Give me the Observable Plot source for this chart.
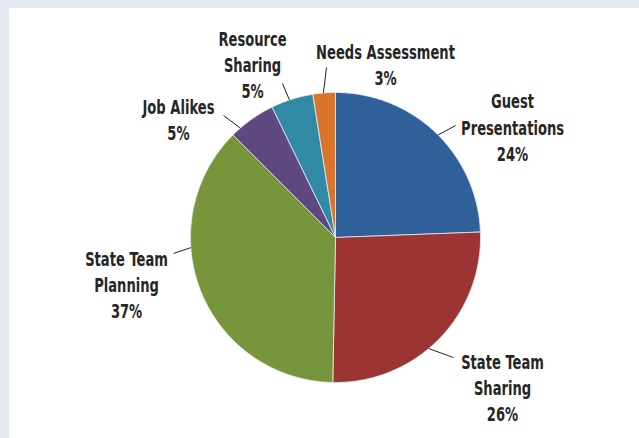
<!DOCTYPE html>
<html>
<head>
<meta charset="utf-8">
<script src="https://cdn.jsdelivr.net/npm/d3@7"></script>
<script src="https://cdn.jsdelivr.net/npm/@observablehq/plot@0.6"></script>
<style>
  html, body { margin: 0; padding: 0; background: #e4e8f0; }
  #chart { position: absolute; left: 9px; top: 8px; width: 630px; height: 430px; background: #ffffff; }
  svg { display: block; }
</style>
</head>
<body>
<div id="chart"></div>
<script>
// ---- data ----
const categories = ["Guest Presentations", "State Team Sharing", "State Team Planning", "Job Alikes", "Resource Sharing", "Needs Assessment"];
const labelText = ["Guest\nPresentations", "State Team\nSharing", "State Team\nPlanning", "Job Alikes", "Resource\nSharing", "Needs Assessment"];
const values = [24.4, 25.9, 37.2, 5.3, 4.7, 2.5];
const colors = ["#30609a", "#9c3434", "#77953b", "#5e4a80", "#318aa5", "#d9742b"];

// ---- layout (label placement, in unit-circle coordinates) ----
const layout = [
  {lx: 1.221, ly: 0.766, ex: 0.828, ey: 0.772, a: 45},
  {lx: 1.152, ly: -1.028, ex: 0.814, ey: -0.828, a: 140},
  {lx: -1.441, ly: -0.317, ex: -1.117, ey: -0.110, a: 266},
  {lx: -1.083, ly: 0.821, ex: -0.772, ey: 0.841, a: 319},
  {lx: -0.572, ly: 1.200, ex: -0.366, ey: 1.062, a: 341.5},
  {lx: 0.345, ly: 1.200, ex: -0.062, ey: 1.172, a: 355.2}
];

const total = d3.sum(values);
const rad = Math.PI / 180;
const slicePts = [];
let cum = 0;
values.forEach((v, i) => {
  const a0 = cum / total * 360, a1 = (cum + v) / total * 360;
  cum += v;
  const n = Math.max(2, Math.ceil((a1 - a0) / 0.5));
  slicePts.push({name: categories[i], x: 0, y: 0});
  for (let k = 0; k <= n; k++) {
    const a = (a0 + (a1 - a0) * k / n) * rad;
    slicePts.push({name: categories[i], x: Math.sin(a), y: Math.cos(a)});
  }
  slicePts.push({name: categories[i], x: 0, y: 0});
});

const labels = categories.map((c, i) => ({
  name: c,
  text: labelText[i] + "\n" + Math.round(values[i] / total * 100) + "%",
  x: layout[i].lx, y: layout[i].ly
}));
const leaders = categories.map((c, i) => ({
  x1: Math.sin(layout[i].a * rad), y1: Math.cos(layout[i].a * rad),
  x2: layout[i].ex, y2: layout[i].ey
}));

const cx = 326, cy = 229, R = 145;
const chart = Plot.plot({
  width: 630,
  height: 430,
  margin: 0,
  x: {domain: [-1, 1], range: [cx - R, cx + R], axis: null},
  y: {domain: [-1, 1], range: [cy + R, cy - R], axis: null},
  color: {domain: categories, range: colors},
  style: {background: "#ffffff", overflow: "visible"},
  marks: [
    Plot.line(slicePts, {x: "x", y: "y", z: "name", fill: "name", stroke: "#e8ecef", strokeWidth: 0.8, curve: "linear"}),
    Plot.link(leaders, {x1: "x1", y1: "y1", x2: "x2", y2: "y2", stroke: "#222", strokeWidth: 1}),
    Plot.text(labels, {
      x: "x", y: "y", text: "text",
      fontFamily: "'DejaVu Sans', sans-serif",
      fontWeight: "bold", fontSize: 19, lineHeight: 1.39,
      fill: "#262626", textAnchor: "middle", lineAnchor: "middle"
    })
  ]
});
// condense label glyphs horizontally (the original uses a condensed face)
d3.select(chart).selectAll("g[aria-label='text'] text").each(function() {
  const t = this.getAttribute("transform");
  if (t) this.setAttribute("transform", t + " scale(0.69,1)");
});
document.getElementById("chart").appendChild(chart);
</script>
</body>
</html>
